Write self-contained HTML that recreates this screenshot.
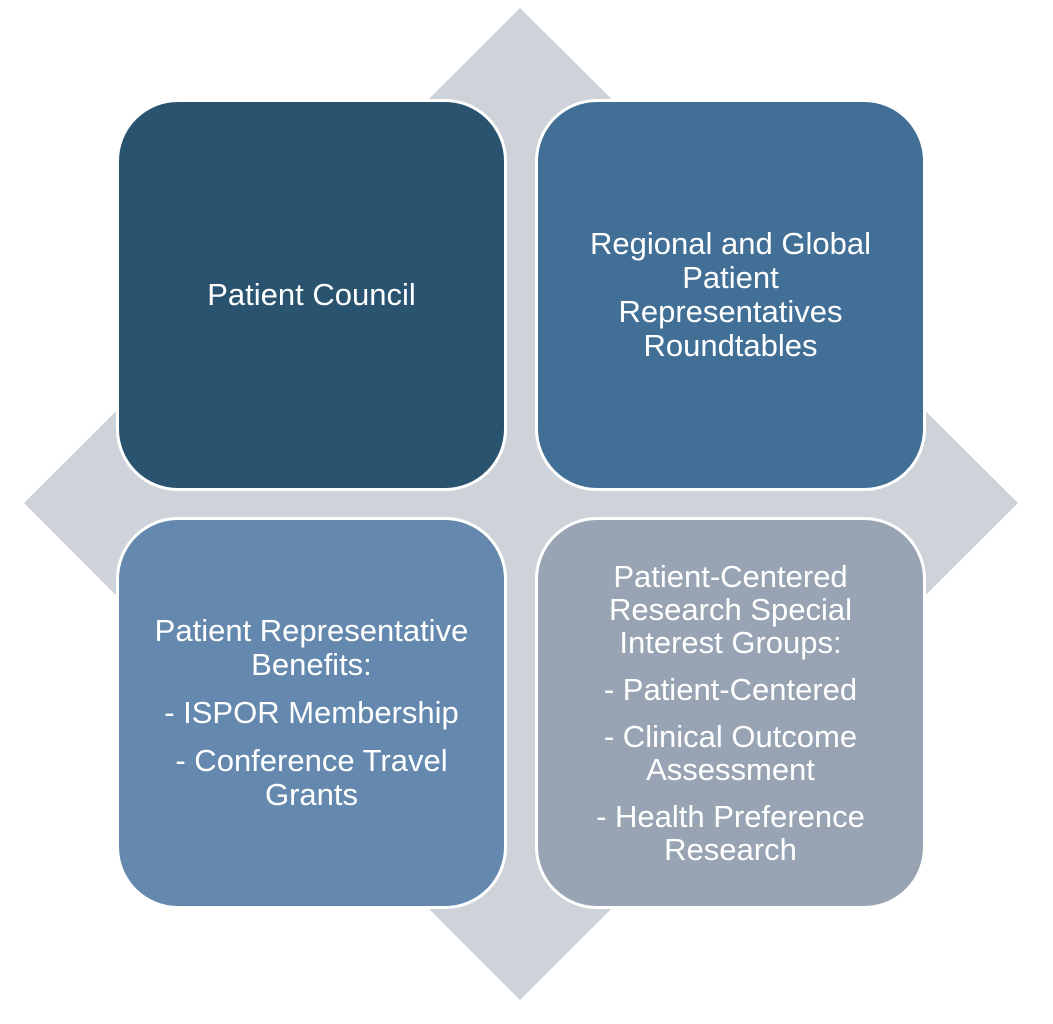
<!DOCTYPE html>
<html><head><style>
body{margin:0;width:1053px;height:1024px;background:#fff;position:relative;overflow:hidden;font-family:"Liberation Sans",sans-serif;}
.b{position:absolute;width:385px;height:386px;border:3px solid #fff;border-radius:62px;box-sizing:content-box;display:flex;align-items:center;justify-content:center;text-align:center;color:#fff;font-size:31px;line-height:34px;}
.s{margin-top:14px}
</style></head><body>
<svg width="1053" height="1024" style="position:absolute;left:0;top:0">
<polygon points="520,8 1018,503 520,1000 24,503" fill="#cdd3d8"/>
</svg>
<div class="b" style="left:116px;top:99px;background:#29536f">Patient Council</div>
<div class="b" style="left:535px;top:99px;background:#426f96"><div>Regional and Global<br>Patient<br>Representatives<br>Roundtables</div></div>
<div class="b" style="left:116px;top:517px;background:#6589ae"><div>Patient Representative<br>Benefits:<br><div class="s">- ISPOR Membership</div><div class="s">- Conference Travel<br>Grants</div></div></div>
<div class="b" style="left:535px;top:517px;background:#98a4b3"><div style="line-height:33px">Patient-Centered<br>Research Special<br>Interest Groups:<br><div class="s">- Patient-Centered</div><div class="s">- Clinical Outcome<br>Assessment</div><div class="s">- Health Preference<br>Research</div></div></div>
</body></html>
